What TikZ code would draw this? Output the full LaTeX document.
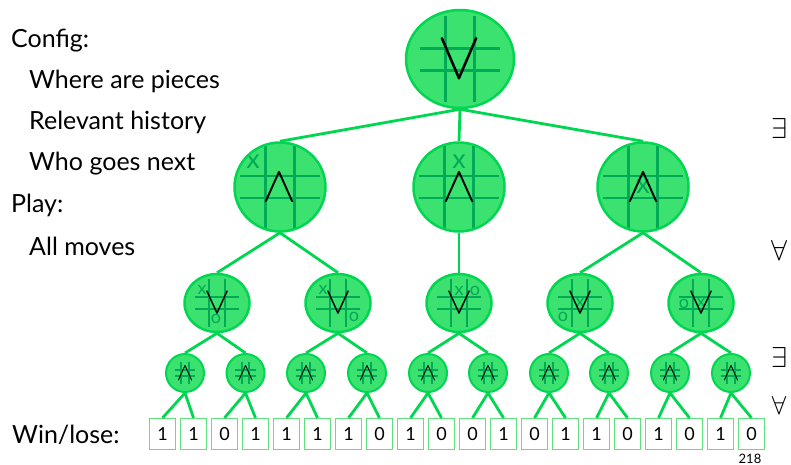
\documentclass[tikz,border=0pt]{standalone}
\usepackage{fontspec}
\setmainfont{Lato}
\usepackage{graphicx}
\usetikzlibrary{shapes.geometric, calc}
\definecolor{gfill}{RGB}{60,226,112}
\definecolor{gedge}{RGB}{0,214,80}
\definecolor{ggrid}{RGB}{0,170,86}
\definecolor{gbox}{RGB}{95,226,125}
\tikzset{
	statenode/.style={ellipse, draw=gedge, fill=gfill, line width=2.5pt, inner sep=0pt}
}
\tikzset{
	board/.style n args={3}{path picture={
		\coordinate (bc) at (path picture bounding box.center);
		\draw[ggrid, line width=#2]
			($(bc)+#1*(-14.5,-43)$) -- ($(bc)+#1*(-14.5,43)$)
			($(bc)+#1*(14.5,-43)$) -- ($(bc)+#1*(14.5,43)$)
			($(bc)+#1*(-40,-11)$) -- ($(bc)+#1*(40,-11)$)
			($(bc)+#1*(-40,11)$) -- ($(bc)+#1*(40,11)$);
		#3}}
}
\tikzset{
	rootstate/.style={statenode, minimum width=108pt, minimum height=98pt},
	movestate/.style={statenode, minimum width=91pt, minimum height=89pt},
	replystate/.style={statenode, minimum width=65pt, minimum height=58pt},
	laststate/.style={statenode, line width=2pt, minimum width=38pt, minimum height=38pt},
	mk1/.style={text=ggrid, inner sep=0pt, font=\fontsize{27}{27}\selectfont},
	mk2/.style={text=ggrid, inner sep=0pt, font=\fontsize{18}{18}\selectfont},
	leaf/.style={draw=gbox, line width=1.2pt, fill=white, minimum width=26pt, minimum height=31pt, inner sep=0pt, font=\fontsize{18}{18}\selectfont},
	link/.style={gedge, line width=2.8pt},
	lefttext/.style={anchor=base west, inner sep=0pt, font=\fontsize{25}{30}\selectfont},
	quant/.style={inner sep=0pt}
}
\newcommand{\gor}[2]{\resizebox{#1}{#2}{$\vee$}}
\newcommand{\gand}[2]{\resizebox{#1}{#2}{$\wedge$}}

\begin{document}
\begin{tikzpicture}[x=1pt, y=-1pt]
  \useasboundingbox (0,0) rectangle (791,464);
  % labels on the left
  \node[lefttext] (cfg) at (11,47) {Config:};
  \node[lefttext] (pcs) at (29,88) {Where are pieces};
  \node[lefttext] (hst) at (29,129) {Relevant history};
  \node[lefttext] (nxt) at (29,170) {Who goes next};
  \node[lefttext] (ply) at (11,212) {Play:};
  \node[lefttext] (mvs) at (29,255) {All moves};
  \node[lefttext] (wl) at (12,443) {Win/lose:};
  % game tree
  \node[rootstate, board={1}{3pt}{}] (r) at (460,59) {\gor{44pt}{38pt}};
  \node[movestate, board={1}{2.8pt}{\node[mk1] at ($(bc)+(-27,-25)$) {x};}] (m1) at (280,187) {\gand{34pt}{28pt}};
  \node[movestate, board={1}{2.8pt}{\node[mk1] at ($(bc)+(0,-25)$) {x};}] (m2) at (459,187) {\gand{34pt}{28pt}};
  \node[movestate, board={1}{2.8pt}{\node[mk1] at (bc) {x};}] (m3) at (643,187) {\gand{34pt}{28pt}};
  \node[replystate, board={0.55}{2.2pt}{\node[mk2] at ($(bc)+(-15,-13)$) {x}; \node[mk2] at ($(bc)+(-1,16)$) {o};}] (r1) at (217,303) {\gor{26pt}{21pt}};
  \node[replystate, board={0.55}{2.2pt}{\node[mk2] at ($(bc)+(-15,-13)$) {x}; \node[mk2] at ($(bc)+(16,14)$) {o};}] (r2) at (338,303) {\gor{26pt}{21pt}};
  \node[replystate, board={0.55}{2.2pt}{\node[mk2] at ($(bc)+(0,-12)$) {x}; \node[mk2] at ($(bc)+(16,-12)$) {o};}] (r3) at (459,303) {\gor{26pt}{21pt}};
  \node[replystate, board={0.55}{2.2pt}{\node[mk2] at (bc) {x}; \node[mk2] at ($(bc)+(-17,14)$) {o};}] (r4) at (580,303) {\gor{26pt}{21pt}};
  \node[replystate, board={0.55}{2.2pt}{\node[mk2] at (bc) {x}; \node[mk2] at ($(bc)+(-17,1)$) {o};}] (r5) at (701,303) {\gor{26pt}{21pt}};
  \node[laststate, board={0.26}{1.6pt}{}] (l1) at (185,373) {\gand{17pt}{14pt}};
  \node[laststate, board={0.26}{1.6pt}{}] (l2) at (245.5,373) {\gand{17pt}{14pt}};
  \node[laststate, board={0.26}{1.6pt}{}] (l3) at (306,373) {\gand{17pt}{14pt}};
  \node[laststate, board={0.26}{1.6pt}{}] (l4) at (367,373) {\gand{17pt}{14pt}};
  \node[laststate, board={0.26}{1.6pt}{}] (l5) at (428,373) {\gand{17pt}{14pt}};
  \node[laststate, board={0.26}{1.6pt}{}] (l6) at (488,373) {\gand{17pt}{14pt}};
  \node[laststate, board={0.26}{1.6pt}{}] (l7) at (549,373) {\gand{17pt}{14pt}};
  \node[laststate, board={0.26}{1.6pt}{}] (l8) at (609,373) {\gand{17pt}{14pt}};
  \node[laststate, board={0.26}{1.6pt}{}] (l9) at (670,373) {\gand{17pt}{14pt}};
  \node[laststate, board={0.26}{1.6pt}{}] (l10) at (731,373) {\gand{17pt}{14pt}};
  % outcomes
  \node[leaf] (w1) at (162.5,434) {1};
  \node[leaf] (w2) at (193.5,434) {1};
  \node[leaf] (w3) at (224.5,434) {0};
  \node[leaf] (w4) at (255.5,434) {1};
  \node[leaf] (w5) at (286.5,434) {1};
  \node[leaf] (w6) at (317.5,434) {1};
  \node[leaf] (w7) at (348.5,434) {1};
  \node[leaf] (w8) at (379.5,434) {0};
  \node[leaf] (w9) at (410.5,434) {1};
  \node[leaf] (w10) at (441.5,434) {0};
  \node[leaf] (w11) at (472.5,434) {0};
  \node[leaf] (w12) at (503.5,434) {1};
  \node[leaf] (w13) at (534.5,434) {0};
  \node[leaf] (w14) at (565.5,434) {1};
  \node[leaf] (w15) at (596.5,434) {1};
  \node[leaf] (w16) at (627.5,434) {0};
  \node[leaf] (w17) at (658.5,434) {1};
  \node[leaf] (w18) at (689.5,434) {0};
  \node[leaf] (w19) at (720.5,434) {1};
  \node[leaf] (w20) at (751.5,434) {0};
  \draw[link] (r.south) -- (m1.north) (r.south) -- (m2.north) (r.south) -- (m3.north);
  \draw[link] (m1.south) -- (r1.north) (m1.south) -- (r2.north);
  \draw[link] (m2.south) -- (r3.north);
  \draw[link] (m3.south) -- (r4.north) (m3.south) -- (r5.north);
  \draw[link] (r1.south) -- (l1.north) (r1.south) -- (l2.north);
  \draw[link] (r2.south) -- (l3.north) (r2.south) -- (l4.north);
  \draw[link] (r3.south) -- (l5.north) (r3.south) -- (l6.north);
  \draw[link] (r4.south) -- (l7.north) (r4.south) -- (l8.north);
  \draw[link] (r5.south) -- (l9.north) (r5.south) -- (l10.north);
  \draw[link] (l1.south) -- (w1.north) (l1.south) -- (w2.north);
  \draw[link] (l2.south) -- (w3.north) (l2.south) -- (w4.north);
  \draw[link] (l3.south) -- (w5.north) (l3.south) -- (w6.north);
  \draw[link] (l4.south) -- (w7.north) (l4.south) -- (w8.north);
  \draw[link] (l5.south) -- (w9.north) (l5.south) -- (w10.north);
  \draw[link] (l6.south) -- (w11.north) (l6.south) -- (w12.north);
  \draw[link] (l7.south) -- (w13.north) (l7.south) -- (w14.north);
  \draw[link] (l8.south) -- (w15.north) (l8.south) -- (w16.north);
  \draw[link] (l9.south) -- (w17.north) (l9.south) -- (w18.north);
  \draw[link] (l10.south) -- (w19.north) (l10.south) -- (w20.north);
  % quantifiers
  \node[quant] (q1) at (779,128) {\resizebox{!}{20pt}{$\exists$}};
  \node[quant] (q2) at (779,250) {\resizebox{!}{20pt}{$\forall$}};
  \node[quant] (q3) at (779,357) {\resizebox{!}{20pt}{$\exists$}};
  \node[quant] (q4) at (779,405) {\resizebox{!}{18pt}{$\forall$}};
  \node[anchor=north, font=\fontsize{13}{13}\selectfont] (pg) at (750,451) {218};
\end{tikzpicture}
\end{document}
